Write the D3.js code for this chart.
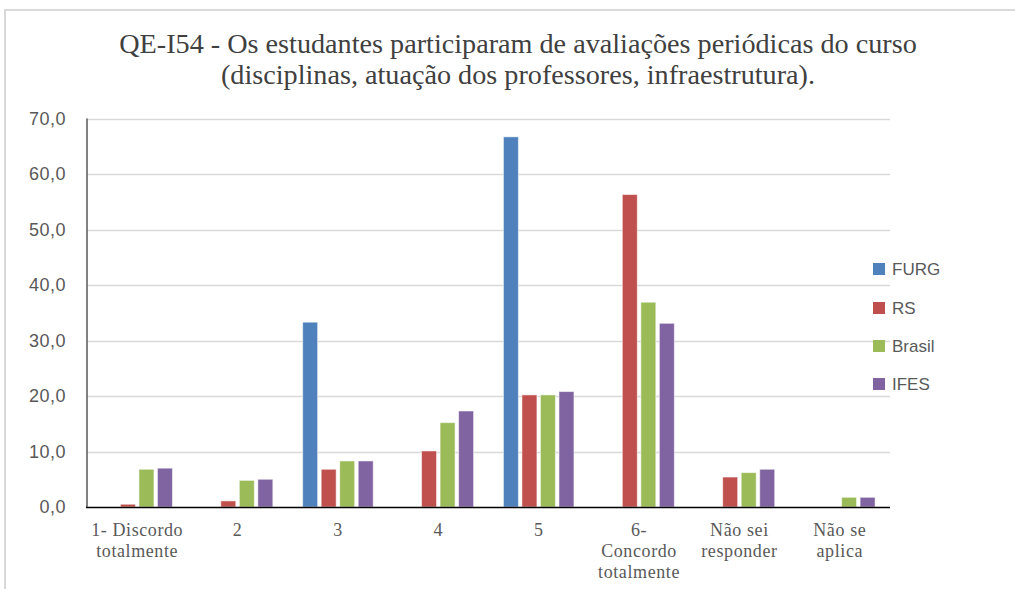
<!DOCTYPE html>
<html><head><meta charset="utf-8">
<script src="https://cdn.jsdelivr.net/npm/d3@7"></script>
<style>body{margin:0;background:#fff;} svg{display:block;}</style>
</head><body>
<svg id="chart" width="1015" height="589"></svg>
<script>
const titleLines = ["QE-I54 - Os estudantes participaram de avaliações periódicas do curso", "(disciplinas, atuação dos professores, infraestrutura)."];
const categories = [["1- Discordo","totalmente"],["2"],["3"],["4"],["5"],["6-","Concordo","totalmente"],["Não sei","responder"],["Não se","aplica"]];
const seriesNames = ["FURG","RS","Brasil","IFES"];
const seriesColors = ["#4F81BD","#C0504D","#9BBB59","#8064A2"];
const FURG   = [0, 0, 33.3, 0, 66.7, 0, 0, 0];
const RS     = [0.5, 1.1, 6.8, 10.1, 20.2, 56.3, 5.4, 0];
const Brasil = [6.8, 4.8, 8.3, 15.2, 20.2, 36.9, 6.2, 1.75];
const IFES   = [7.0, 5.0, 8.3, 17.3, 20.8, 33.1, 6.8, 1.75];
const seriesValues = [FURG, RS, Brasil, IFES];
const yTicks = [0,10,20,30,40,50,60,70];

const svg = d3.select("#chart");
// outer frame
svg.append("rect").attr("x",5).attr("y",10).attr("width",1100).attr("height",700)
  .attr("fill","none").attr("stroke","#d9d9d9").attr("stroke-width",2);

const plot = {left:87, right:890, top:118.5, bottom:507};
const idx = d3.range(categories.length);
const x0 = d3.scaleBand().domain(idx).range([plot.left, plot.right]).paddingInner(0.262).paddingOuter(0.131);
const x1 = d3.scaleBand().domain(d3.range(seriesNames.length)).range([0, x0.bandwidth()]).paddingInner(0.19).paddingOuter(0.095);
const y = d3.scaleLinear().domain([0,70]).range([plot.bottom, plot.top]);

// gridlines
svg.append("g").selectAll("line").data(yTicks.filter(d=>d>0)).join("line")
  .attr("x1",plot.left).attr("x2",plot.right)
  .attr("y1",d=>Math.round(y(d))+0.5).attr("y2",d=>Math.round(y(d))+0.5)
  .attr("stroke","#d9d9d9").attr("stroke-width",1.5);

// y axis labels
const fmt = d => d.toFixed(1).replace(".", ",");
svg.append("g").selectAll("text").data(yTicks).join("text")
  .attr("x",66).attr("y",d=>y(d)).attr("dy","0.35em")
  .attr("text-anchor","end")
  .style("font-family","'Liberation Sans', Arial, sans-serif").style("font-size","18px")
  .style("letter-spacing","0.5px")
  .attr("fill","#595959").text(fmt);

// bars
const g = svg.append("g");
seriesValues.forEach((vals, s) => {
  g.append("g").selectAll("rect").data(vals.map((v,i)=>({v,i}))).join("rect")
    .filter(d=>d.v>0)
    .attr("x",d=>x0(d.i)+x1(s)).attr("width",x1.bandwidth())
    .attr("y",d=>y(d.v)).attr("height",d=>y(0)-y(d.v))
    .attr("fill",seriesColors[s])
    .attr("stroke","rgba(255,255,255,0.55)").attr("stroke-width",1);
});

// axes lines
svg.append("line").attr("x1",plot.left).attr("x2",plot.left).attr("y1",plot.top).attr("y2",plot.bottom)
  .attr("stroke","#595959").attr("stroke-width",1.5);
svg.append("line").attr("x1",plot.left-1).attr("x2",plot.right).attr("y1",plot.bottom+0.5).attr("y2",plot.bottom+0.5)
  .attr("stroke","#000").attr("stroke-width",1.5);

// x labels
const xl = svg.append("g").selectAll("text").data(idx).join("text")
  .attr("text-anchor","middle")
  .style("font-family","'Liberation Serif', 'Times New Roman', serif").style("font-size","18px")
  .style("letter-spacing","0.6px")
  .attr("fill","#595959");
xl.each(function(i){
  const t = d3.select(this);
  categories[i].forEach((line,k)=>{
    t.append("tspan").attr("x",x0(i)+x0.bandwidth()/2).attr("y",536 + k*21).text(line);
  });
});

// title
const title = svg.append("g");
const tl = titleLines.map((line,k)=> title.append("text")
  .attr("x",518).attr("y",[53,84][k]).attr("text-anchor","middle")
  .style("font-family","'Liberation Serif', 'Times New Roman', serif").style("font-size","24px")
  .attr("fill","#404040").text(line));
const w = tl[0].node().getComputedTextLength();
const fs = 24 * 798 / w;
tl.forEach(t=>t.style("font-size", fs.toFixed(2)+"px"));

// legend
const leg = svg.append("g");
seriesNames.forEach((n,s)=>{
  const cy = [269,308,346,384][s];
  leg.append("rect").attr("x",873).attr("y",cy-6).attr("width",12).attr("height",12).attr("fill",seriesColors[s]);
  leg.append("text").attr("x",892).attr("y",cy).attr("dy","0.35em")
    .style("font-family","'Liberation Sans', Arial, sans-serif").style("font-size","17px")
    .attr("fill","#595959").text(n);
});
</script>
</body></html>
